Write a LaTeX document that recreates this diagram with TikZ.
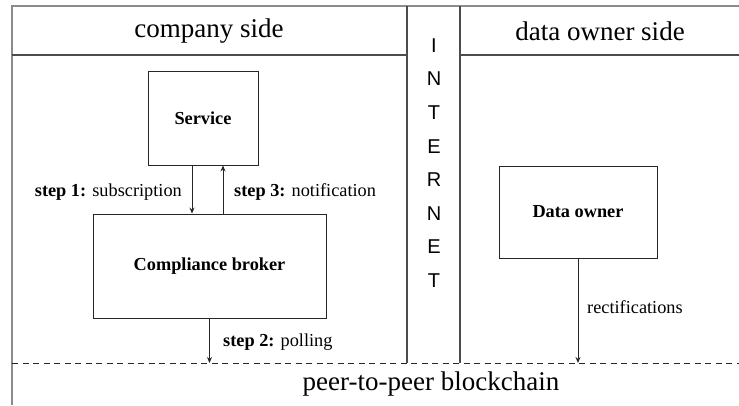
\documentclass[tikz,border=0pt]{standalone}
\usepackage{fontspec}
\setmainfont{Liberation Serif}
\newfontfamily\inetfont{Liberation Sans}
\usetikzlibrary{arrows.meta}
\begin{document}
\begin{tikzpicture}[x=1pt,y=-1pt,
  box/.style={draw=black!85,line width=0.9pt,inner sep=0pt,font=\fontsize{18.3}{20}\selectfont\bfseries},
  arr/.style={draw=black!85,line width=0.9pt,-{Stealth[length=6pt,width=5pt]}},
  lbl/.style={inner sep=0pt,font=\fontsize{18.3}{20}\selectfont},
  head/.style={inner sep=0pt,font=\fontsize{27}{30}\selectfont},
  frame/.style={draw=black!45,line width=2pt},
  divider/.style={draw=black!70,line width=1.1pt},
  chainline/.style={draw=black!85,line width=0.9pt,dash pattern=on 6pt off 4.5pt}
]
\useasboundingbox (0,0) rectangle (739,405);
% frame
\coordinate (tl) at (12,6);
\coordinate (tr) at (739,6);
\coordinate (bl) at (12,405);
\draw[frame] (tr) -- (tl) -- (bl);
% header divider
\coordinate (hl) at (12,55);
\coordinate (hr) at (739,55);
\coordinate (il) at (407,55);
\coordinate (ir) at (460,55);
\draw[divider] (hl) -- (il);
\draw[divider] (ir) -- (hr);
% dashed chain line
\coordinate (dl) at (12,363);
\coordinate (dr) at (739,363);
\draw[chainline] (dl) -- (dr);
% internet column
\coordinate (itop) at (407,6);
\coordinate (ibot) at (407,363);
\coordinate (jtop) at (460,6);
\coordinate (jbot) at (460,363);
\draw[divider] (itop) -- (ibot);
\draw[divider] (jtop) -- (jbot);
\node[inner sep=0pt,align=center,font=\inetfont\fontsize{20}{33.6}\selectfont] (internet) at (434,163)
  {I\\N\\T\\E\\R\\N\\E\\T};
% headers
\node[head] (company) at (209,31) {company side};
\node[head] (owner side) at (600,31) {data owner side};
\node[head] (chain) at (431,384) {peer-to-peer blockchain};
% boxes
\node[box,minimum width=110pt,minimum height=94pt] (service) at (203,118) {Service};
\node[box,minimum width=233pt,minimum height=104pt] (broker) at (209.5,266) {Compliance broker};
\node[box,minimum width=158pt,minimum height=92pt] (owner) at (578,212) {Data owner};
% arrows
\draw[arr] ([xshift=-11pt]service.south) -- ([xshift=-11pt]service.south |- broker.north);
\draw[arr] ([xshift=20pt]service.south |- broker.north) -- ([xshift=20pt]service.south);
\draw[arr] (broker.south) -- (broker.south |- dl);
\draw[arr] (owner.south) -- (owner.south |- dl);
% labels
\node[lbl,anchor=east] (s1) at (182,192) {\textbf{step 1:} subscription};
\node[lbl,anchor=west] (s3) at (234,192) {\textbf{step 3:} notification};
\node[lbl,anchor=west] (s2) at (223,342) {\textbf{step 2:} polling};
\node[lbl,anchor=west] (rect) at (587,307) {rectifications};
\end{tikzpicture}
\end{document}
